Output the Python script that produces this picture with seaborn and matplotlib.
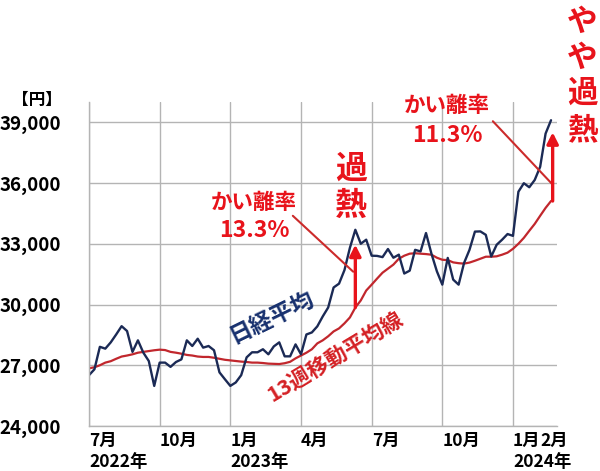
import numpy as np
import pandas as pd
import matplotlib
matplotlib.use("Agg")
import matplotlib.pyplot as plt
import matplotlib.transforms as mtransforms
import seaborn as sns

sns.set_theme(style="white")
plt.rcParams["font.family"] = ["Noto Sans CJK JP", "DejaVu Sans"]
plt.rcParams["font.weight"] = "bold"

# weekly closes (week 0 = start of July 2022)
nikkei = [
    26510, 26800, 27910, 27820, 28130, 28520, 28930, 28690, 27660, 28230,
    27620, 27210, 25980, 27130, 27130, 26920, 27160, 27290, 28230, 27950,
    28310, 27870, 27950, 27740, 26650, 26310, 25980, 26150, 26510, 27390,
    27640, 27640, 27790, 27540, 27930, 28130, 27440, 27440, 28030, 27540,
    28520, 28620, 28920, 29410, 29850, 30840, 31030, 31700, 32800, 33690,
    33000, 33200, 32410, 32400, 32340, 32740, 32310, 32460, 31530, 31670,
    32700, 32620, 33530, 32510, 31640, 30980, 32300, 31230, 30980, 32050,
    32700, 33600, 33610, 33440, 32370, 32950, 33200, 33480, 33390, 35570,
    35990, 35790, 36150, 36800, 38440, 39100,
]
ma13 = [
    26850, 26900, 27000, 27130, 27200, 27320, 27430, 27480, 27540, 27620,
    27660, 27700, 27740, 27770, 27750, 27660, 27620, 27570, 27510, 27480,
    27430, 27410, 27410, 27370, 27320, 27270, 27240, 27210, 27180, 27160,
    27130, 27130, 27110, 27080, 27070, 27060, 27100, 27170, 27340, 27480,
    27620, 27790, 28080, 28230, 28430, 28670, 28820, 29070, 29360, 29850,
    30200, 30690, 30980, 31280, 31570, 31770, 31970, 32260, 32410, 32510,
    32530, 32510, 32490, 32460, 32310, 32210, 32190, 32080, 32040, 32020,
    32070, 32160, 32260, 32360, 32360, 32380, 32460, 32560, 32750, 33000,
    33290, 33640, 33980, 34380, 34770, 35110,
]
weeks = np.arange(len(nikkei))

tick_weeks = [0, 13, 26, 39, 52, 65, 78]
month_labels = ["7月", "10月", "1月", "4月", "7月", "10月", "1月"]
year_weeks = [0, 26, 78]
year_labels = ["2022年", "2023年", "2024年"]
feb_week = 83.0
y_ticks = [24000, 27000, 30000, 33000, 36000, 39000]

# arrows: (week, base, tip)
arrow1 = (49, ma13[49], 32950)
arrow2 = (85.3, ma13[85], 38500)

df = pd.DataFrame({"week": weeks, "nikkei": nikkei, "ma13": ma13})

NAVY = "#1b2a55"
DARKRED = "#c1272d"
RED = "#e8131b"
GRID = "#b4b4b4"

fig = plt.figure(figsize=(6, 4.71), dpi=100)
ax = fig.add_axes([89 / 600, 1 - 426 / 471, (557 - 89) / 600, (426 - 102) / 471])

sns.lineplot(data=df, x="week", y="ma13", color=DARKRED, lw=1.6, ax=ax)
sns.lineplot(data=df, x="week", y="nikkei", color=NAVY, lw=1.7, ax=ax)

ax.set_xlim(0, 86.1)
ax.set_ylim(24000, 40000)
ax.set_xticks(tick_weeks)
ax.set_xticklabels(month_labels, ha="left", fontsize=12.5, fontweight="bold")
ax.set_xticks([feb_week], minor=True)
ax.set_xticklabels(["2月"], minor=True, ha="left", fontsize=12.5, fontweight="bold")
ax.set_yticks(y_ticks)
ax.set_yticklabels([f"{v:,}" for v in y_ticks], fontsize=13.5, fontweight="bold")
ax.tick_params(axis="both", which="both", length=0, colors="black")
ax.tick_params(axis="x", which="both", pad=4)
ax.tick_params(axis="y", pad=20)
ax.grid(True, which="major", color=GRID, lw=1)
ax.set_xlabel("")
ax.set_ylabel("")
for side in ["top", "right"]:
    ax.spines[side].set_visible(False)
for side in ["left", "bottom"]:
    ax.spines[side].set_color(GRID)
    ax.spines[side].set_linewidth(1)

# year labels on a second row under the month ticks
trans = mtransforms.blended_transform_factory(ax.transData, fig.transFigure)
for wk, lab in zip(year_weeks, year_labels):
    ax.text(wk, 1 - 462 / 471, lab, transform=trans, ha="left", va="center",
            fontsize=12.5, fontweight="bold", color="black", clip_on=False)

fig.text(37 / 600, 1 - 100 / 471, "【円】", ha="center", va="center",
         fontsize=12, fontweight="bold", color="black")

# arrows from moving average up to the index
for wk, base, tip in [arrow1, arrow2]:
    ax.annotate("", xy=(wk, tip), xytext=(wk, base),
                arrowprops=dict(arrowstyle="-|>,head_length=0.55,head_width=0.28",
                                color=RED, lw=2.4, shrinkA=0, shrinkB=0),
                annotation_clip=False)

# leader lines from labels
ax.plot([37.5, 48.6], [34380, 31620], color="#cc2b2b", lw=1.5, clip_on=False)
ax.plot([74.3, 85.2], [39050, 35950], color="#cc2b2b", lw=1.5, clip_on=False)

txt = dict(ha="center", va="center", fontweight="bold", clip_on=False)
ax.text(30.4, 35020, "かい離率", color=RED, fontsize=15.5, **txt)
ax.text(30.4, 33640, "13.3%", color=RED, fontsize=16.5, **txt)
ax.text(65.9, 39840, "かい離率", color=RED, fontsize=15.5, **txt)
ax.text(65.9, 38360, "11.3%", color=RED, fontsize=16.5, **txt)

for ch, v in zip("過熱", [36690, 34870]):
    ax.text(48.2, v, ch, color=RED, fontsize=23, **txt)
for ch, v in zip("やや過熱", [43970, 42200, 40480, 38610]):
    ax.text(90.7, v, ch, color=RED, fontsize=22, **txt)

ax.text(33.7, 29360, "日経平均", color="#17306e", fontsize=16.5, rotation=26,
        rotation_mode="anchor", **txt)
ax.text(45.25, 27440, "13週移動平均線", color="#d42024", fontsize=15.5, rotation=31,
        rotation_mode="anchor", **txt)

fig.savefig("out.png", dpi=100, facecolor="white")
